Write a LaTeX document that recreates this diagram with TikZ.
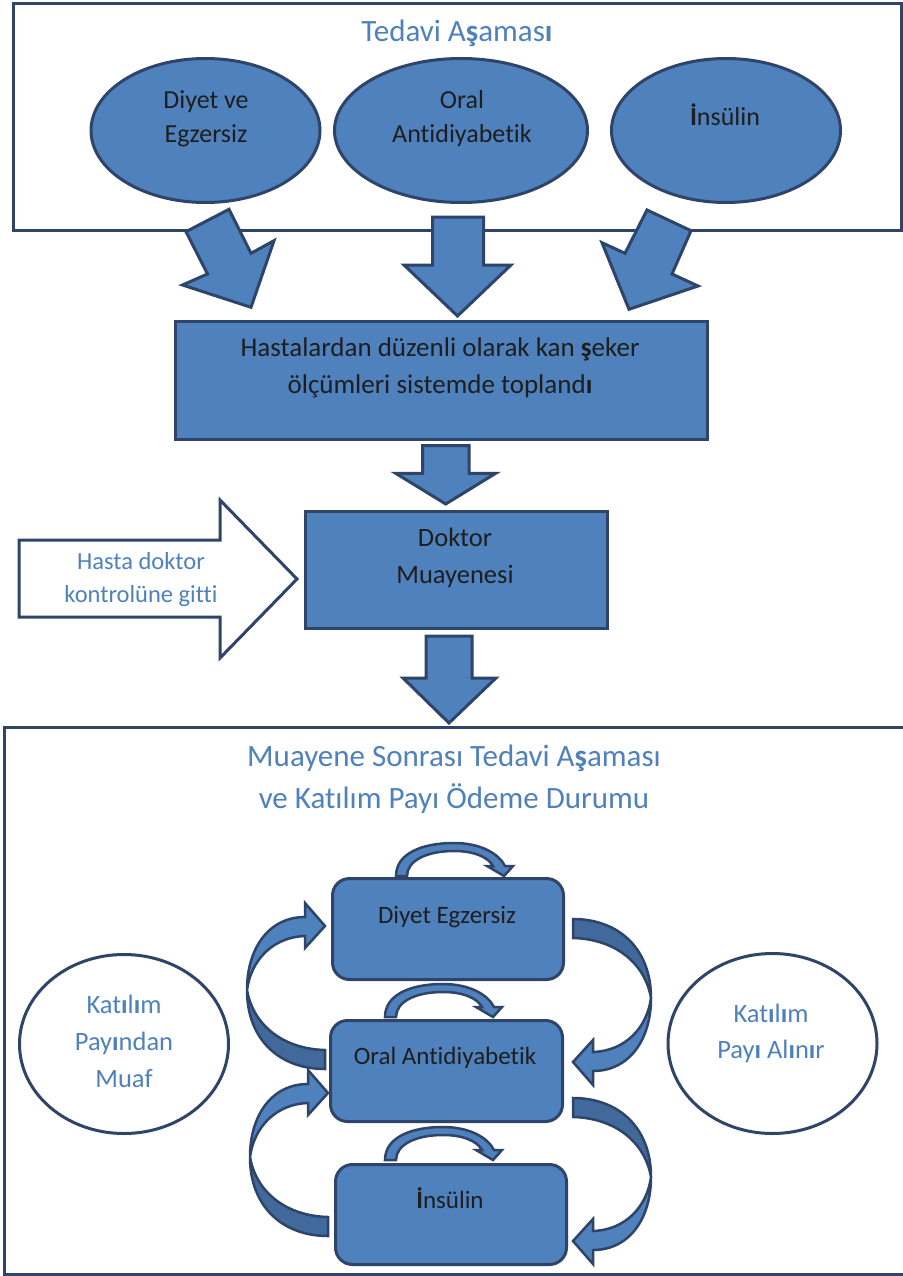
\documentclass[tikz,border=0pt]{standalone}
\usepackage{fontspec}
\setmainfont{Carlito}[Ligatures=NoCommon]
\usetikzlibrary{shapes.geometric}
\definecolor{fillb}{HTML}{4F81BD}
\definecolor{edgeb}{HTML}{2E4468}
\definecolor{darkb}{HTML}{41699C}
\definecolor{titleb}{HTML}{4F81BD}
\definecolor{txtd}{HTML}{1E1E1E}
\newcommand{\bq}[1]{\textbf{#1}}
\tikzset{
  shp/.style={draw=edgeb, line width=3pt, fill=fillb, inner sep=0pt},
  wbox/.style={draw=edgeb, line width=3pt, fill=white, inner sep=0pt},
  blk/.style={draw=edgeb, line width=3pt, fill=fillb, line join=miter},
  ttl/.style={text=titleb, font=\fontsize{31}{37}\selectfont, anchor=base, inner sep=0pt},
  lbl/.style={text=txtd, font=\fontsize{26}{31}\selectfont, anchor=base, inner sep=0pt},
  lbls/.style={text=txtd, font=\fontsize{25}{30}\selectfont, anchor=base, inner sep=0pt},
  blbl/.style={text=titleb, font=\fontsize{26.5}{31}\selectfont, anchor=base, inner sep=0pt},
  hlbl/.style={text=titleb, font=\fontsize{24.5}{30}\selectfont, anchor=base, inner sep=0pt},
  curvarr/.pic={
    \path[draw=edgeb, line width=2.5pt, fill=darkb, line join=miter]
      (-78,-70) .. controls (-78,-20) and (-45,9) .. (0,9) -- (0,-10)
      .. controls (-42,-11) and (-72,-35) .. (-78,-70) -- cycle;
    \path[draw=edgeb, line width=2.5pt, fill=fillb, line join=miter]
      (-20,-143) -- (-20,-157) -- (0,-134) -- (-20,-112) -- (-20,-124)
      .. controls (-52,-123) and (-74,-100) .. (-78,-70)
      .. controls (-78,-112) and (-56,-143) .. (-20,-143) -- cycle;
  },
  smarr/.pic={
    \path[draw=edgeb, line width=2.5pt, fill=fillb, line join=miter]
      (0,0) .. controls (0,-22) and (25,-33) .. (58,-33)
      .. controls (85,-33) and (103,-22) .. (109,-10) -- (117,-10) -- (108,0)
      -- (91,-10) -- (97,-10) .. controls (92,-19) and (78,-25) .. (58,-25)
      .. controls (30,-25) and (11,-15) .. (11,0) -- cycle;
  }
}
\begin{document}
\begin{tikzpicture}[x=1pt, y=-1pt]
\useasboundingbox[fill=white] (0,0) rectangle (902,1276);

% ---------- top section ----------
\node[wbox, minimum width=888pt, minimum height=227pt, anchor=north west] (topbox) at (12,2) {};
\node[ttl] (toptitle) at (457,42) {Tedavi A\bq{ş}amas\bq{ı}};

\node[shp, ellipse, minimum width=229pt, minimum height=144pt] (e1) at (205.5,130.5) {};
\node[shp, ellipse, minimum width=253pt, minimum height=144pt] (e2) at (461,130.5) {};
\node[shp, ellipse, minimum width=229pt, minimum height=144pt] (e3) at (726,130.5) {};
\node[lbl] (e1a) at (206,109) {Diyet ve};
\node[lbl] (e1b) at (206,143) {Egzersiz};
\node[lbl] (e2a) at (462,109) {Oral};
\node[lbl] (e2b) at (462,143) {Antidiyabetik};
\node[lbl] (e3a) at (725,126) {\bq{İ}nsülin};

% arrows from top section
\path[blk] (186,231.7) -- (229,209.3) -- (251,253.3) -- (274,240.7) -- (251,307.3) -- (182.5,285) -- (207.5,274) -- cycle;
\path[blk] (432.5,217) -- (483.5,217) -- (483.5,265) -- (511,265) -- (457.5,316) -- (404,265) -- (432.5,265) -- cycle;
\path[blk] (647,210) -- (691,230.7) -- (672,274) -- (698,286) -- (629,309.3) -- (602,242.7) -- (625,253.3) -- cycle;

% ---------- middle ----------
\node[shp, minimum width=532pt, minimum height=118pt, anchor=north west] (hbox) at (174,320) {};
\node[lbl, font=\fontsize{27}{32}\selectfont] (h1) at (440,356) {Hastalardan düzenli olarak kan \bq{ş}eker};
\node[lbl, font=\fontsize{27}{32}\selectfont] (h2) at (440,393) {ölçümleri sistemde topland\bq{ı}};

\path[blk] (422.5,445.7) -- (469,445.7) -- (469,473.3) -- (495.7,473.3) -- (445.7,504) -- (395.7,473.3) -- (422.5,473.3) -- cycle;

\node[shp, minimum width=302pt, minimum height=117pt, anchor=north west] (dbox) at (304,510) {};
\node[lbl, font=\fontsize{26.5}{31}\selectfont] (d1) at (455,546) {Doktor};
\node[lbl, font=\fontsize{26.5}{31}\selectfont] (d2) at (455,583) {Muayenesi};

\path[draw=edgeb, line width=3pt, fill=white, line join=miter] (19,540) -- (220,540) -- (220,500) -- (297,579) -- (220,658) -- (220,617) -- (19,617) -- cycle;
\node[hlbl] (w1) at (141,569) {Hasta doktor};
\node[hlbl] (w2) at (141,602) {kontrolüne gitti};

\path[blk] (426,636) -- (472,636) -- (472,678) -- (496,678) -- (449,723) -- (403,678) -- (426,678) -- cycle;

% ---------- bottom section ----------
\node[wbox, minimum width=905pt, minimum height=547pt, anchor=north west] (botbox) at (3,726) {};
\node[ttl] (bt1) at (454,766) {Muayene Sonrası Tedavi A\bq{ş}aması};
\node[ttl] (bt2) at (454,808) {ve Katılım Payı Ödeme Durumu};

\node[shp, rounded corners=17pt, minimum width=231pt, minimum height=101pt, anchor=north west] (r1) at (331,877) {};
\node[shp, rounded corners=17pt, minimum width=232pt, minimum height=101pt, anchor=north west] (r2) at (329,1019) {};
\node[shp, rounded corners=17pt, minimum width=231pt, minimum height=100pt, anchor=north west] (r3) at (334,1163) {};
\node[lbls] (r1t) at (447,923) {Diyet Egzersiz};
\node[lbls] (r2t) at (445,1064) {Oral Antidiyabetik};
\node[lbls] (r3t) at (450,1208) {\bq{İ}nsülin};

\pic at (396,876) {smarr};
\pic at (385,1017) {smarr};
\pic at (385,1160) {smarr};

\pic at (325,1060) {curvarr};
\pic at (328,1227) {curvarr};
\pic[rotate=180] at (573,928) {curvarr};
\pic[rotate=180] at (573,1107) {curvarr};

\node[draw=edgeb, line width=3pt, fill=white, ellipse, minimum width=209pt, minimum height=179pt, inner sep=0pt] (c1) at (124,1044) {};
\node[blbl] (c1a) at (124,1013) {Kat\bq{ı}l\bq{ı}m};
\node[blbl] (c1b) at (124,1050) {Pay\bq{ı}ndan};
\node[blbl] (c1c) at (124,1087) {Muaf};

\node[draw=edgeb, line width=3pt, fill=white, ellipse, minimum width=209pt, minimum height=180pt, inner sep=0pt] (c2) at (772.5,1043.5) {};
\node[blbl] (c2a) at (771,1022) {Kat\bq{ı}l\bq{ı}m};
\node[blbl] (c2b) at (771,1058) {Pay\bq{ı} Al\bq{ı}n\bq{ı}r};
\end{tikzpicture}
\end{document}
